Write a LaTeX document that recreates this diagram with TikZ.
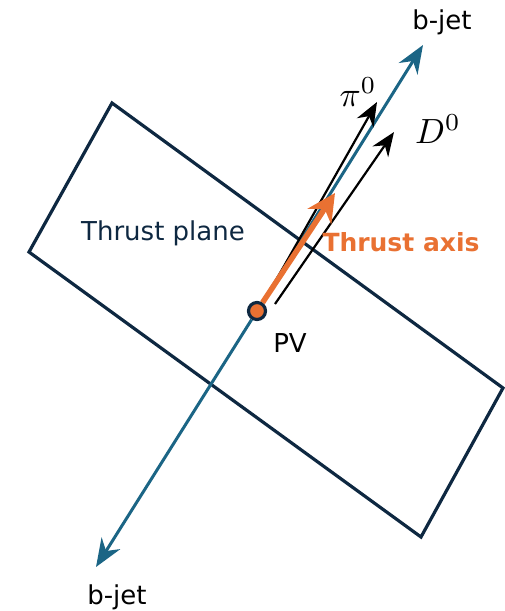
\documentclass[tikz,border=0pt]{standalone}
\usepackage{fontspec}
\setmainfont{DejaVu Sans}
\usetikzlibrary{arrows.meta}
\definecolor{jetblue}{HTML}{1B6585}
\definecolor{axisorange}{HTML}{E97132}
\definecolor{planenavy}{HTML}{0E2841}
\begin{document}
\begin{tikzpicture}[x=1pt,y=-1pt,
	jet/.style={ jetblue, line width=3pt, -{Stealth[length=28pt,width=22pt]} },
	track/.style={ black, line width=2.2pt, -{Stealth[length=24pt,width=19pt]} },
	lbl/.style={ font=\fontsize{26}{28}\selectfont, inner sep=0pt },
	mth/.style={ inner sep=0pt, scale=3.5 },
	vtx/.style={ circle, draw=planenavy, line width=3.2pt, fill=axisorange, inner sep=0pt, minimum size=17pt }
]
\useasboundingbox (0,0) rectangle (505,611);

% thrust plane
\draw[planenavy, line width=3.2pt, line join=miter] (112,103) -- (503,388) -- (421,537) -- (29,252) -- cycle;
\node at (163,233) (plane) [lbl,text=planenavy] {Thrust plane};

% jet axis
\coordinate (jetup) at (423,45);
\coordinate (jetdn) at (96,567);
\node at (257,311) (pv) [vtx] {};
\draw[jet] (pv) -- (jetup);
\draw[jet] (pv) -- (jetdn);
\node at (442,22) (bup) [lbl] {b-jet};
\node at (117,597) (bdn) [lbl] {b-jet};

% tracks
\coordinate (pis) at (275,282);
\coordinate (pie) at (377,102);
\coordinate (ds) at (275,304);
\coordinate (de) at (394,132);
\foreach \s/\e in {pis/pie,ds/de} \draw[track] (\s) -- (\e);
\node at (358,92) (pi) [mth] {$\pi^0$};
\node at (438,129) (dz) [mth] {$D^0$};

% thrust axis
\coordinate (thr) at (335,193);
\draw[axisorange, line width=5.5pt, -{Stealth[length=28pt,width=28pt]}] (pv) -- (thr);
\node at (401,242) (axis) [lbl,text=axisorange,font=\fontsize{25}{28}\selectfont\bfseries] {Thrust axis};
\node at (290,343) (pvl) [lbl] {PV};
\end{tikzpicture}
\end{document}
